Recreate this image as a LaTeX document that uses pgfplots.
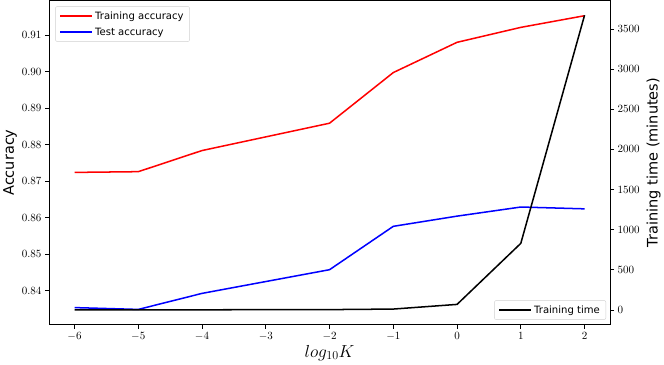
\documentclass[border=0pt]{standalone}
\usepackage{pgfplots}
\pgfplotsset{compat=1.18}
\usepackage{fontspec}
\setmainfont{DejaVu Sans}
\pgfplotsset{legend image code/.code={\draw[#1] (0pt,0pt) -- (26pt,0pt); \path (0pt,0pt) -- (32pt,0pt);}}
\begin{document}
\begin{tikzpicture}
\pgfplotsset{
  common/.style={
    scale only axis, width=557pt, height=322pt,
    xmin=-6.4, xmax=2.4,
    tick align=outside, major tick length=4pt,
    every tick/.style={black, line width=0.8pt},
    axis line style={line width=0.8pt},
    tick label style={font=\fontsize{11}{13}\selectfont},
    label style={font=\fontsize{14.4}{17}\selectfont},
    legend style={font=\fontsize{10}{12}\selectfont, draw=black!18, rounded corners=2pt,
      fill=white, inner xsep=4pt, inner ysep=3pt, row sep=3pt},
    legend cell align=left,
  }
}
\begin{axis}[common,
  xtick={-6,-5,-4,-3,-2,-1,0,1,2},
  xtick pos=bottom, ytick pos=left,
  ymin=0.8306, ymax=0.9196,
  ytick={0.84,0.85,0.86,0.87,0.88,0.89,0.90,0.91},
  yticklabel style={/pgf/number format/.cd, fixed, fixed zerofill, precision=2},
  xlabel={$log_{10}K$},
  xlabel style={font=\fontsize{18}{20}\selectfont, yshift=2pt},
  ylabel={Accuracy},
  ylabel style={yshift=-2pt},
  legend style={at={(0.011,0.982)}, anchor=north west},
]
\addplot[color=red, line width=1.5pt] coordinates {
(-6,0.8724) (-5,0.8726) (-4,0.8784) (-2,0.8859) (-1,0.8998) (0,0.9081) (1,0.9122) (2,0.9154)};
\addlegendentry{Training accuracy}
\addplot[color=blue, line width=1.5pt] coordinates {
(-6,0.8353) (-5,0.8348) (-4,0.8392) (-2,0.8457) (-1,0.8576) (0,0.8604) (1,0.8629) (2,0.8624)};
\addlegendentry{Test accuracy}
\end{axis}
\begin{axis}[common,
  hide x axis,
  axis y line*=right,
  ymin=-183, ymax=3855,
  ytick={0,500,1000,1500,2000,2500,3000,3500},
  yticklabel style={/pgf/number format/.cd, set thousands separator={}},
  ylabel={Training time (minutes)},
  legend style={at={(0.993,0.015)}, anchor=south east},
]
\addplot[color=black, line width=1.5pt] coordinates {
(-6,2) (-5,2) (-4,3) (-2,5) (-1,12) (0,70) (1,830) (2,3670)};
\addlegendentry{Training time}
\end{axis}
\end{tikzpicture}
\end{document}
